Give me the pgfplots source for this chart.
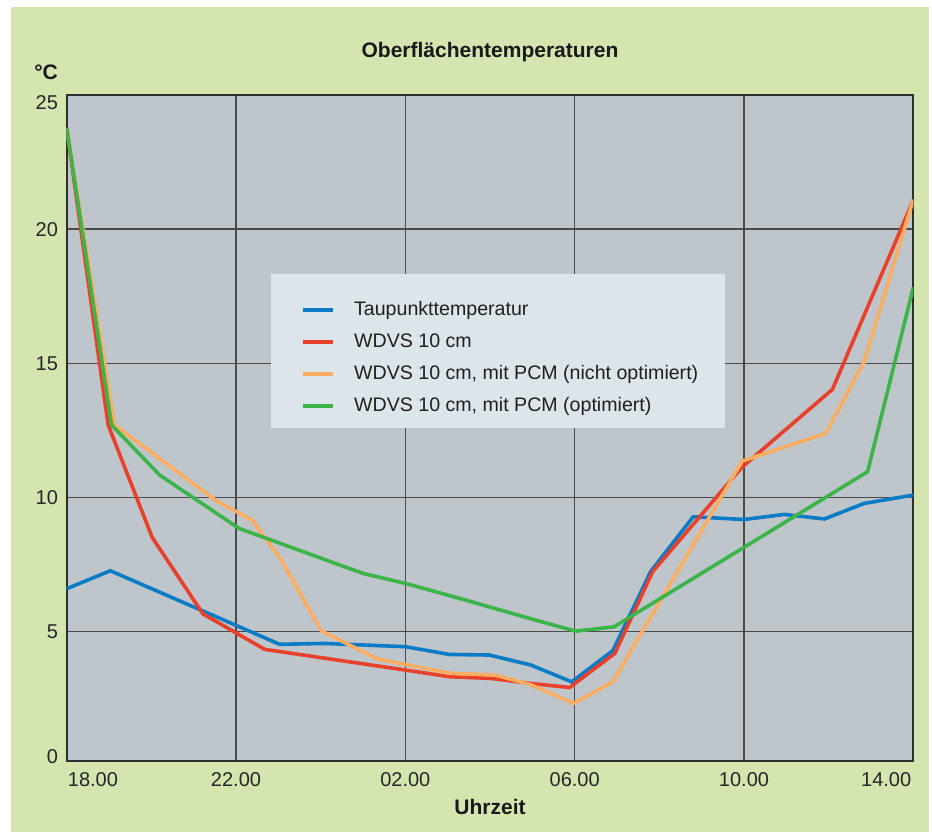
\documentclass[border=0pt]{standalone}
\usepackage{fontspec}
\setmainfont{Liberation Sans}
\usepackage{pgfplots}
\pgfplotsset{compat=1.18}
\definecolor{pagegreen}{HTML}{D4E5B0}
\definecolor{plotbg}{HTML}{BEC6CC}
\definecolor{legendbg}{HTML}{DCE6EA}
\definecolor{gridc}{HTML}{4A4A4A}
\definecolor{axisc}{HTML}{2E2E2E}
\definecolor{cblue}{HTML}{0A7CC6}
\definecolor{cred}{HTML}{E8402A}
\definecolor{corange}{HTML}{FBAE62}
\definecolor{cgreen}{HTML}{3CB44A}
\begin{document}
\begin{tikzpicture}[x=1pt,y=1pt]
\fill[white] (0,0) rectangle (466,416);
\fill[pagegreen] (5.5,0) rectangle (464.5,412.5);
\node[anchor=base, inner sep=0pt, font=\bfseries\fontsize{10.5}{12}\selectfont, text=black!90] at (245,387.35) {Oberflächentemperaturen};
\node[anchor=base east, inner sep=0pt, font=\bfseries\fontsize{10.5}{12}\selectfont, text=black!90] at (29.15,376) {°C};
\node[anchor=base, inner sep=0pt, font=\bfseries\fontsize{10.5}{12}\selectfont, text=black!90] at (245,9) {Uhrzeit};
\begin{axis}[
  at={(33.35pt,35.5pt)}, anchor=south west,
  scale only axis, width=423.3pt, height=333pt,
  xmin=0, xmax=20, ymin=0.18, ymax=25,
  axis background/.style={fill=plotbg},
  xtick={4,8,12,16}, xticklabels={22.00,02.00,06.00,10.00},
  extra x ticks={0.62,19.36}, extra x tick labels={18.00,14.00},
  extra x tick style={grid=none, major tick length=0pt},
  ytick={5,10,15,20},
  extra y ticks={0.34,24.7}, extra y tick labels={0,25},
  extra y tick style={grid=none, major tick length=0pt},
  grid=major, major grid style={gridc, line width=0.75pt},
  major tick length=0pt,
  axis line style={axisc, line width=1pt},
  /pgf/number format/assume math mode=true,
  tick label style={font=\fontsize{10}{12}\selectfont, text=black!85},
  xticklabel style={yshift=-2pt},
  yticklabel style={xshift=-0.85pt},
  legend style={draw=none, fill=none, at={(0.2768,0.6907)}, anchor=north west,
    inner sep=0pt, row sep=7pt, column sep=9.35pt, font=\fontsize{9.8}{11}\selectfont, text=black!88,
    nodes={inner sep=0pt, text height=7pt, text depth=2pt}},
  legend image code/.code={\draw[#1, line width=2pt] (0pt,0pt) -- (15pt,0pt);},
  legend cell align=left,
]
\fill[legendbg] (rel axis cs:0.2413,0.7312) rectangle (rel axis cs:0.7776,0.4995);
\addplot[cblue, line width=1.8pt] coordinates {
(0,6.6) (1.03,7.27) (5.03,4.53) (6.1,4.56) (8,4.44) (9.05,4.15) (9.98,4.13)
(10.96,3.76) (11.93,3.13) (12.9,4.29) (13.8,7.25) (14.8,9.28) (16,9.18)
(16.95,9.37) (17.9,9.2) (18.84,9.78) (20,10.09)};
\addlegendentry{Taupunkttemperatur}
\addplot[cred, line width=1.8pt] coordinates {
(0,23.77) (0.98,12.7) (2.02,8.51) (3.22,5.66) (4.68,4.34) (8,3.57) (9.05,3.32)
(10.02,3.26) (10.96,3.07) (11.88,2.92) (12.95,4.19) (13.84,7.23) (15.96,11.14)
(18.09,14.03) (20,21.08)};
\addlegendentry{WDVS 10 cm}
\addplot[corange, line width=1.8pt] coordinates {
(0,23.77) (1.13,12.7) (3.54,9.87) (4.38,9.16) (5.07,7.67) (6.02,5.02) (7.35,3.98)
(9.05,3.45) (10.13,3.38) (10.92,3.05) (11.98,2.33) (12.9,3.13) (15.96,11.36)
(17.93,12.39) (18.84,15.06) (20,21.1)};
\addlegendentry{WDVS 10 cm, mit PCM (nicht optimiert)}
\addplot[cgreen, line width=1.8pt] coordinates {
(0,23.77) (1.06,12.7) (2.2,10.83) (4.07,8.85) (7.0,7.17) (8,6.8) (9.42,6.18)
(10.92,5.5) (12.02,5.02) (12.93,5.18) (18.92,10.96) (20,17.83)};
\addlegendentry{WDVS 10 cm, mit PCM (optimiert)}
\end{axis}
\end{tikzpicture}
\end{document}
